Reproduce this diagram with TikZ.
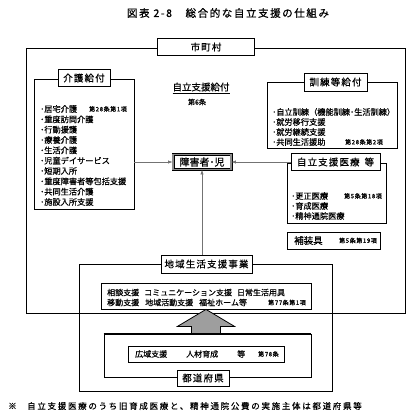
\documentclass[tikz,border=0pt]{standalone}
\usepackage{fontspec}
\setmainfont[FakeBold=0.6]{Noto Sans CJK JP}
\newfontfamily\jpl[LetterSpace=12,FakeBold=0.6]{Noto Sans CJK JP}
\newfontfamily\jpt[LetterSpace=15,FakeBold=0.8]{Noto Sans CJK JP}
\newfontfamily\jpf[LetterSpace=20,FakeBold=0.6]{Noto Sans CJK JP}
\newfontfamily\jps[LetterSpace=10,FakeBold=0.8]{Noto Sans CJK JP}
\usetikzlibrary{arrows.meta,calc}
\begin{document}
\begin{tikzpicture}[x=1pt,y=-1pt,
 frame/.style={draw=black,line width=0.8pt,inner sep=0pt},
 lbl/.style={draw=black,fill=white,line width=0.8pt,inner sep=0pt,font=\jpl\fontsize{9.5}{11}\selectfont},
 item/.style={anchor=west,inner sep=0pt,font=\fontsize{8.2}{10}\selectfont},
 note/.style={anchor=west,inner sep=0pt,font=\jps\fontsize{6}{7}\selectfont},
 conn/.style={draw=black!55,line width=0.6pt,-{Latex[length=4.5pt,width=3.2pt]}},
 bigarrow/.style={draw=black,line width=0.8pt,fill=black!38},
]
\useasboundingbox (0,0) rectangle (416,418);
\node[inner sep=0pt,font=\jpt\fontsize{10.5}{12}\selectfont] (title) at (228,13) {図表 2-8　総合的な自立支援の仕組み};

% municipality
\node[frame,minimum width=379,minimum height=265] (city) at (215.5,180.5) {};
\node[lbl,minimum width=97,minimum height=17] (citylbl) at (206,47) {市町村};

% kaigo
\node[frame,minimum width=100,minimum height=130] (kaigo) at (84,144) {};
\node[lbl,minimum width=52,minimum height=17] (kaigolbl) at (84,78) {介護給付};
\foreach \t [count=\i from 0] in {居宅介護,重度訪問介護,行動援護,療養介護,生活介護,児童デイサービス,短期入所,重度障害者等包括支援,共同生活介護,施設入所支援}
  \node[item] (kaigoitem\i) at (40,{109+10.33*\i}) {･\t};
\node[note] (kaigonote) at (89,109) {第28条第1項};

% jiritsu shien kyufu
\node[inner sep=0pt,font=\fontsize{9.5}{11}\selectfont] (kyufu) at (201,88) {\underline{自立支援給付}};
\node[inner sep=0pt,font=\fontsize{7}{8}\selectfont] (art6) at (197,102) {第6条};

% person
\node[draw=black,double=black!45,double distance=1.8pt,line width=0.6pt,fill=white,inner sep=0pt,minimum width=58,minimum height=15,font=\fontsize{10}{11}\selectfont] (sh) at (202,162) {障害者･児};

% kunren
\node[frame,minimum width=130,minimum height=66] (kunren) at (332,115) {};
\node[lbl,minimum width=63,minimum height=18] (kunrenlbl) at (335.5,82) {訓練等給付};
\foreach \t [count=\i from 0] in {自立訓練（機能訓練･生活訓練）,就労移行支援,就労継続支援,共同生活援助}
  \node[item] (kunrenitem\i) at (272,{112+10*\i}) {･\t};
\node[note] (kunrennote) at (345,142) {第28条第2項};

% iryo
\node[frame,minimum width=99,minimum height=60] (iryo) at (336.5,193) {};
\node[lbl,minimum width=89,minimum height=17] (iryolbl) at (335.5,162) {自立支援医療\hspace{5pt}等};
\foreach \t [count=\i from 0] in {更正医療,育成医療,精神通院医療}
  \node[item] (iryoitem\i) at (291,{196+10*\i}) {･\t};
\node[note] (iryonote) at (344,196) {第5条第18項};

% hosougu
\node[frame,minimum width=93,minimum height=17] (hosougu) at (333.5,240.5) {};
\node[anchor=west,inner sep=0pt,font=\fontsize{9.5}{11}\selectfont] (hosougutxt) at (294,240.5) {補装具};
\node[note] (hosougunote) at (339,240.5) {第5条第19項};

% chiiki
\node[frame,minimum width=253,minimum height=127] (chiiki) at (205.5,327.5) {};
\node[lbl,minimum width=91,minimum height=18] (chiikilbl) at (206.5,264) {地域生活支援事業};
\node[frame,minimum width=210,minimum height=26] (soudan) at (206,296) {};
\node[item,font=\fontsize{8}{10}\selectfont] (soudan1) at (107,292.5) {相談支援\hspace{5pt}コミュニケーション支援\hspace{5pt}日常生活用具};
\node[item,font=\fontsize{8}{10}\selectfont] (soudan2) at (107,302.5) {移動支援\hspace{6pt}地域活動支援\hspace{6pt}福祉ホーム等};
\node[note] (soudannote) at (268,302.5) {第77条第1項};

% todofuken
\node[frame,minimum width=207,minimum height=43] (todo) at (207.5,355.5) {};
\node[frame,minimum width=156,minimum height=16] (kouiki) at (206,354) {};
\node[item,font=\fontsize{8}{10}\selectfont] (kouiki1) at (135,354) {広域支援};
\node[item,font=\fontsize{8}{10}\selectfont] (kouiki2) at (186,354) {人材育成};
\node[item,font=\fontsize{8}{10}\selectfont] (kouiki3) at (237,354) {等};
\node[note] (kouikinote) at (258,354) {第78条};
\node[lbl,minimum width=52,minimum height=16] (todolbl) at (203,378) {都道府県};

% big arrow
\coordinate (tip) at (soudan.south);
\coordinate (abase) at (todo.north -| tip);
\draw[bigarrow] (tip) -- ($(tip)+(28.5,17)$) -- ($(tip)+(14.5,17)$) -- ($(abase)+(14.5,0)$) -- ($(abase)+(-14.5,0)$) -- ($(tip)+(-14.5,17)$) -- ($(tip)+(-28.5,17)$) -- cycle;
\draw[line width=0.8pt] (todo.north west) -- (todo.north east);

% connectors
\draw[conn] (kaigo.east |- sh.west) -- (sh.west);
\draw[conn] (iryolbl.west |- sh.east) -- (sh.east);
\draw[conn] (chiikilbl.north -| sh.south) -- (sh.south);

% footnote
\node[anchor=west,inner sep=0pt,font=\fontsize{8.5}{10}\selectfont] (fnmark) at (8,406) {※};
\node[anchor=west,inner sep=0pt,font=\jpf\fontsize{8.5}{10}\selectfont] (fn) at (27,406) {自立支援医療のうち旧育成医療と、精神通院公費の実施主体は都道府県等};
\end{tikzpicture}
\end{document}
